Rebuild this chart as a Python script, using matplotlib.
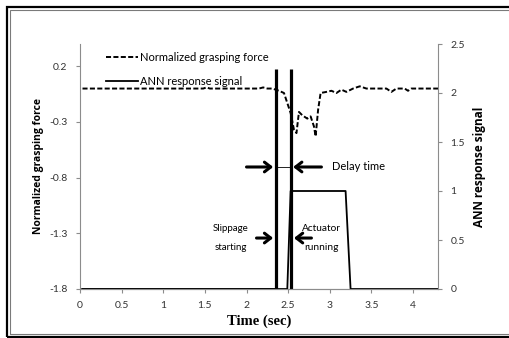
import matplotlib
matplotlib.use("Agg")
import matplotlib.pyplot as plt
from matplotlib.lines import Line2D
from matplotlib.patches import Rectangle

# normalized grasping force (left axis)
force_t = [0.03, 1.48, 1.52, 1.56, 2.15, 2.20, 2.25, 2.31, 2.39, 2.45, 2.49, 2.53, 2.57,
           2.60, 2.63, 2.67, 2.73, 2.77, 2.81, 2.83, 2.86, 2.89, 2.96, 3.02, 3.08,
           3.14, 3.20, 3.28, 3.36, 3.44, 3.68, 3.74, 3.80, 3.90, 3.94, 3.98, 4.30]
force = [0.0, 0.0, 0.01, 0.0, 0.0, 0.01, 0.0, 0.0, -0.02, -0.04, -0.13, -0.22, -0.37,
         -0.40, -0.21, -0.24, -0.27, -0.25, -0.34, -0.43, -0.19, -0.04, -0.03, -0.02, -0.04,
         -0.01, -0.03, 0.0, 0.02, 0.0, 0.0, -0.03, 0.0, 0.0, -0.02, 0.0, 0.0]

# ANN response signal (right axis)
ann_t = [0.03, 2.49, 2.53, 3.19, 3.25, 4.30]
ann = [0, 0, 1, 1, 0, 0]

# event markers: slippage starting / actuator running
event_t = [2.35, 2.54]
event_top = 2.25

xticks = [0, 0.5, 1, 1.5, 2, 2.5, 3, 3.5, 4]
left_ticks = [-1.8, -1.3, -0.8, -0.3, 0.2]
left_labels = ["-1.8", "-1.3", "-0.8", "-0.3", "0.2"]
right_ticks = [0, 0.5, 1, 1.5, 2, 2.5]
right_labels = ["0", "0.5", "1", "1.5", "2", "2.5"]

sans = ["Lato", "DejaVu Sans"]
bold_sans = ["Open Sans", "DejaVu Sans"]
plt.rcParams["font.family"] = sans
grey = "#8c8c8c"
txt = "#333333"

fig = plt.figure(figsize=(5.1, 3.38), dpi=100)
ax = fig.add_axes([80 / 510, 1 - 289 / 338, 358 / 510, 245 / 338])
ax2 = ax.twinx()

ax.plot(force_t, force, color="black", lw=1.4, linestyle=(0, (2.6, 1.2)))
ax2.plot(ann_t, ann, color="black", lw=1.3)
ax2.plot([ann_t[0], event_t[0]], [0, 0], color="black", lw=1.8)
ax2.vlines(event_t, 0, event_top, color="black", lw=2.3)

ax.set_xlim(0, 4.3)
ax.set_ylim(-1.8, 0.4)
ax2.set_ylim(0, 2.5)
ax.set_xticks(xticks)
ax.set_xticklabels([str(x) for x in xticks])
ax.set_yticks(left_ticks)
ax.set_yticklabels(left_labels)
ax2.set_yticks(right_ticks)
ax2.set_yticklabels(right_labels)

for a in (ax, ax2):
    a.spines["top"].set_visible(False)
    for s in ("left", "right", "bottom"):
        a.spines[s].set_color(grey)
        a.spines[s].set_linewidth(0.8)
    a.tick_params(colors=grey, labelcolor=txt, labelsize=7.5, length=3, width=0.8)
ax.spines["right"].set_visible(False)
ax2.spines["left"].set_visible(False)
ax.tick_params(axis="x", pad=6)
ax.tick_params(axis="y", pad=6)
ax2.tick_params(axis="y", pad=6)

ax.set_xlabel("Time (sec)", family="Liberation Serif", fontweight="bold", fontsize=10.5,
              labelpad=3, color="black")
ax.set_ylabel("Normalized grasping force", family=bold_sans, fontweight="bold",
              fontsize=7.5, labelpad=4, color="black")
ax2.set_ylabel("ANN response signal", family=bold_sans, fontweight="bold",
               fontsize=8.5, labelpad=6, color="black")

# annotations
arrow = dict(arrowstyle="->,head_length=0.45,head_width=0.35", lw=2.2, color="black",
             shrinkA=0, shrinkB=0)
ax2.annotate("", xy=(2.32, 1.245), xytext=(2.0, 1.245), arrowprops=arrow)
ax2.annotate("", xy=(2.56, 1.245), xytext=(2.90, 1.245), arrowprops=arrow)
ax2.plot(event_t, [1.245, 1.245], color="black", lw=0.6)
ax2.text(3.03, 1.245, "Delay time", fontsize=8, va="center", ha="left", color="black")

ax2.annotate("", xy=(2.32, 0.52), xytext=(2.12, 0.52), arrowprops=arrow)
ax2.annotate("", xy=(2.57, 0.52), xytext=(2.78, 0.52), arrowprops=arrow)
ax2.text(1.81, 0.52, "Slippage\n\nstarting", fontsize=7, ha="center", va="center",
         linespacing=1.1, color="black")
ax2.text(2.90, 0.52, "Actuator\n\nrunning", fontsize=7.3, ha="center", va="center",
         linespacing=1.05, color="black")

handles = [Line2D([], [], color="black", lw=1.4, linestyle=(0, (2.6, 1.2))),
           Line2D([], [], color="black", lw=1.3)]
fig.legend(handles, ["Normalized grasping force", "ANN response signal"],
           loc="upper left", bbox_to_anchor=(106 / 510, 1 - 52 / 338), frameon=False,
           fontsize=8, handlelength=2.9, handletextpad=0.2, labelspacing=1.2,
           borderpad=0, borderaxespad=0)

# double border
fig.add_artist(Rectangle((7 / 510, 1 - 337 / 338), 1.1, 330 / 338, transform=fig.transFigure,
                         fill=False, edgecolor="black", lw=1.6, clip_on=False))
fig.add_artist(Rectangle((10.5 / 510, 1 - 334 / 338), 1.1, 324 / 338, transform=fig.transFigure,
                         fill=False, edgecolor="#7a7a7a", lw=0.8, clip_on=False))

fig.savefig("out.png", dpi=100)
